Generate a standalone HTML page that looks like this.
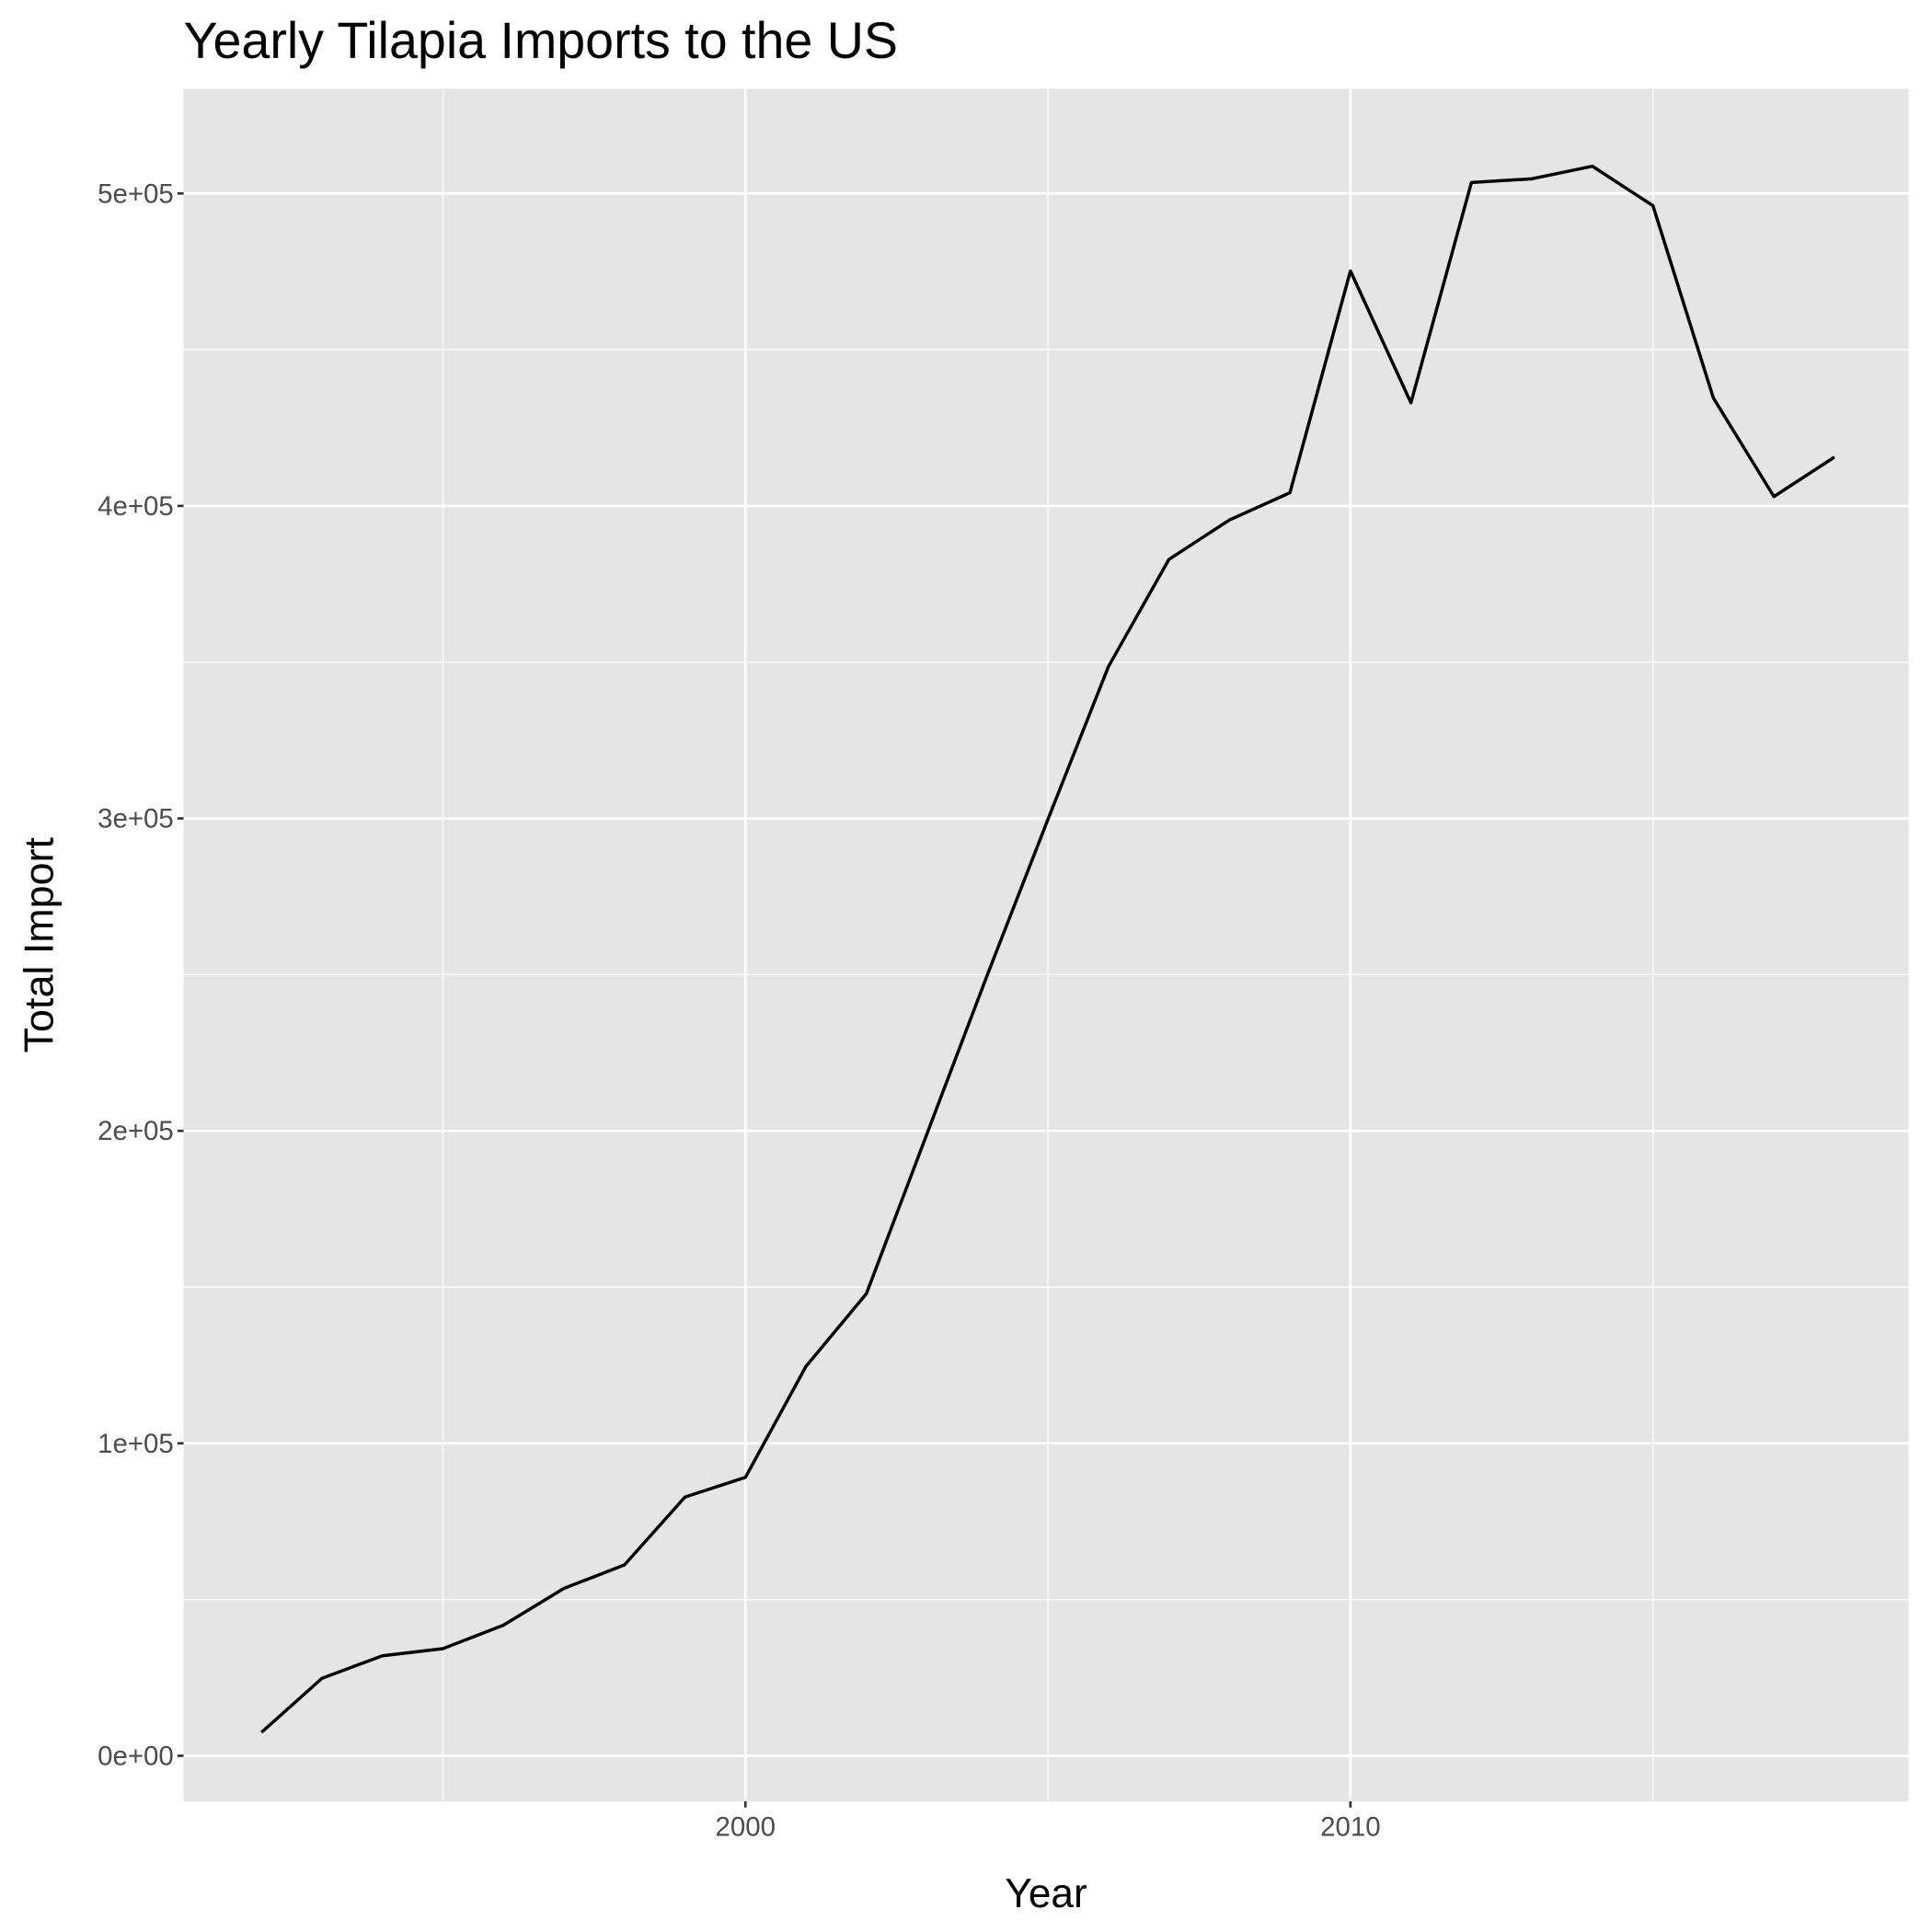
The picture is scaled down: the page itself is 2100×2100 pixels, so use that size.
<!DOCTYPE html>
<html><head><meta charset="utf-8"><style>
html,body{margin:0;padding:0;background:#fff;}
svg{display:block;}
text{font-family:"Liberation Sans",Arial,sans-serif;}
</style></head><body>
<svg id="chart" width="2100" height="2100" viewBox="0 0 1568 1568" xmlns="http://www.w3.org/2000/svg">
<rect x="0" y="0" width="1568" height="1568" fill="#fff"/>
<text x="149" y="47" font-size="41.5" fill="#000">Yearly Tilapia Imports to the US</text>
<rect x="149" y="72" width="1400" height="1390" fill="#e5e5e5"/>
<g id="grid"></g>
<g id="axes"></g>
<path id="line" fill="none" stroke="#000" stroke-width="2.6" stroke-linejoin="round"/>
<text x="849" y="1548" font-size="33" text-anchor="middle" fill="#000">Year</text>
<text transform="translate(43,767) rotate(-90)" font-size="33.5" text-anchor="middle" fill="#000">Total Import</text>
</svg>
<script>
const years = [1992,1993,1994,1995,1996,1997,1998,1999,2000,2001,2002,2003,2004,2005,2006,2007,2008,2009,2010,2011,2012,2013,2014,2015,2016,2017,2018];
const imports = [7500,24800,32000,34300,41800,53600,61100,82800,89100,124600,147900,199000,250000,299700,348600,382900,395500,404200,475200,433000,503500,504700,508700,496100,434500,403000,415600];
const xMajorTicks = [2000,2010];
const xMinorTicks = [1995,2005,2015];
const yMajorTicks = [0,100000,200000,300000,400000,500000];
const yMinorTicks = [50000,150000,250000,350000,450000];
const yTickLabels = ["0e+00","1e+05","2e+05","3e+05","4e+05","5e+05"];

const NS="http://www.w3.org/2000/svg";
const px0=149, px1=1549, py0=72, py1=1462;
function xs(v){return 605 + (v-2000)*49.1;}
function ys(v){return 1425 - v*253.6/100000;}
const grid=document.getElementById('grid'), axes=document.getElementById('axes');
function mk(tag,attrs,parent){const e=document.createElementNS(NS,tag);for(const k in attrs)e.setAttribute(k,attrs[k]);parent.appendChild(e);return e;}

yMinorTicks.forEach(v=>{
  const l=mk('line',{x1:px0,x2:px1,y1:ys(v),y2:ys(v),stroke:'#fff','stroke-width':1},grid);
  
  
});
xMinorTicks.forEach(v=>{
  const l=mk('line',{x1:xs(v),x2:xs(v),y1:py0,y2:py1,stroke:'#fff','stroke-width':1},grid);
  
  
});
yMajorTicks.forEach((v,i)=>{
  const l=mk('line',{x1:px0,x2:px1,y1:ys(v),y2:ys(v),stroke:'#fff','stroke-width':2},grid);
  
  
  const t=mk('line',{x1:px0-5,x2:px0,y1:ys(v),y2:ys(v),stroke:'#333','stroke-width':2},axes);
  
  
  const tx=mk('text',{x:px0-8,y:ys(v)+7.5,'font-size':22,'text-anchor':'end',fill:'#4d4d4d'},axes);
  tx.textContent=yTickLabels[i];
  
  
});
xMajorTicks.forEach(v=>{
  const l=mk('line',{x1:xs(v),x2:xs(v),y1:py0,y2:py1,stroke:'#fff','stroke-width':2},grid);
  
  
  const t=mk('line',{x1:xs(v),x2:xs(v),y1:py1,y2:py1+5,stroke:'#333','stroke-width':2},axes);
  
  
  const tx=mk('text',{x:xs(v),y:py1+28,'font-size':22,'text-anchor':'middle',fill:'#4d4d4d'},axes);
  tx.textContent=String(v);
  
  
});
document.getElementById('line').setAttribute('d',years.map((y,i)=>(i?'L':'M')+xs(y).toFixed(1)+' '+ys(imports[i]).toFixed(1)).join(' '));
</script>
</body></html>
